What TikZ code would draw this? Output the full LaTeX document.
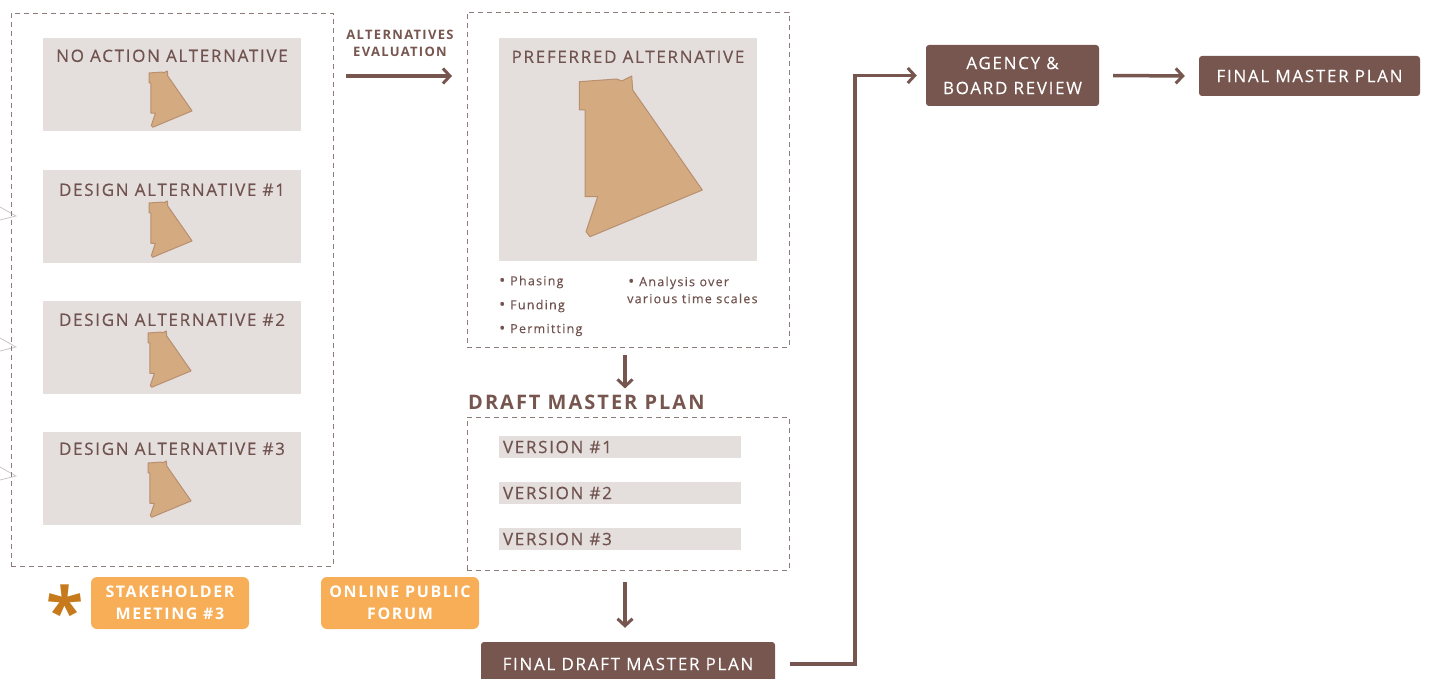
\documentclass[tikz,border=0pt]{standalone}
\usepackage{fontspec}
\setmainfont{Open Sans}[LetterSpace=10, UprightFeatures={FakeBold=0.3}]
\usetikzlibrary{arrows.meta,positioning}
\definecolor{plum}{HTML}{76564F}
\definecolor{plumtext}{HTML}{70534F}
\definecolor{panel}{HTML}{E4DEDD}
\definecolor{parcelfill}{HTML}{D4AA80}
\definecolor{parceledge}{HTML}{B89070}
\definecolor{orangebox}{HTML}{F8AE57}
\definecolor{star}{HTML}{C67A1C}
\definecolor{dashline}{HTML}{8E7C7B}
\newcommand{\dotmark}{{\fontsize{16}{16}\selectfont\raisebox{-0.5pt}{•}}\hspace{5pt}}
\tikzset{
  frame/.style={draw=dashline, line width=0.9pt, dash pattern=on 5pt off 4pt},
  altbox/.style={fill=panel, minimum width=258pt, minimum height=93pt, inner sep=0pt},
  alttitle/.style={text=plumtext, font=\fontsize{17}{20}\selectfont, inner sep=0pt},
  verbar/.style={fill=panel, minimum width=242pt, minimum height=22pt, inner sep=0pt},
  vertext/.style={text=plumtext, font=\fontsize{17}{19}\selectfont, inner sep=0pt, anchor=west},
  darkbox/.style={fill=plum, rounded corners=3pt, text=white, align=center,
    font=\fontsize{17}{25}\selectfont, inner sep=0pt},
  orangebox/.style={fill=orangebox, rounded corners=6pt, text=white, align=center,
    font=\bfseries\fontsize{16}{22}\selectfont, inner sep=0pt,
    minimum width=158pt, minimum height=52pt},
  bullet/.style={text=plumtext, font=\fontsize{12.5}{17}\selectfont, inner sep=0pt, anchor=west, align=left},
  flow/.style={draw=plum, line width=3.5pt, -{Straight Barb[length=7pt,width=15pt,line width=3pt]}},
  ghost/.style={draw=gray!45, line width=0.8pt},
  parcel/.pic={
    \draw[fill=parcelfill, draw=parceledge, line width=1pt, line join=round]
      (0,0) -- (37.4,-2.7) -- (42.4,-0.7) -- (52.4,-5.7) -- (53.4,8.3)
      -- (123,108.3) -- (10.7,155) -- (6.7,150) -- (18.4,115) -- (5.7,115)
      -- (5.7,28.3) -- (0,28.3) -- cycle;
  }
}
\begin{document}
\begin{tikzpicture}[x=1pt,y=-1pt]
  \useasboundingbox (0,0) rectangle (1431,679);
  % leftover tips at the left edge
  \draw[ghost] (0,207) -- (16,216) -- (0,220);
  \draw[ghost] (0,338) -- (16,347) -- (0,351);
  \draw[ghost] (0,467) -- (16,476) -- (0,480);
  % alternatives
  \node[frame, minimum width=322pt, minimum height=553pt] (altframe) at (172,289.5) {};
  \node[altbox] (noaction) at (172,84.5) {};
  \node[altbox] (design1) at (172,216.5) {};
  \node[altbox] (design2) at (172,347.5) {};
  \node[altbox] (design3) at (172,478.5) {};
  \node[alttitle] at ([yshift=-18pt]noaction.north) {NO ACTION ALTERNATIVE};
  \node[alttitle] at ([yshift=-20pt]design1.north) {DESIGN ALTERNATIVE \#1};
  \node[alttitle] at ([yshift=-19pt]design2.north) {DESIGN ALTERNATIVE \#2};
  \node[alttitle] at ([yshift=-17pt]design3.north) {DESIGN ALTERNATIVE \#3};
  \pic[scale=0.35] at (149,73) {parcel};
  \pic[scale=0.35] at (149,203) {parcel};
  \pic[scale=0.35] at (148,333) {parcel};
  \pic[scale=0.35] at (148,463) {parcel};
  % evaluation
  \node[text=plum, font=\bfseries\fontsize{13}{17}\selectfont, align=center, inner sep=0pt]
    (evaltext) at (400,43) {ALTERNATIVES\\EVALUATION};
  \coordinate (evalin) at (346,76);
  \coordinate (evalout) at (452,76);
  \draw[flow] (evalin) -- (evalout);
  % preferred alternative
  \node[frame, minimum width=322pt, minimum height=335pt] (prefframe) at (628,179.5) {};
  \node[altbox, minimum height=223pt] (preferred) at (628,149.5) {};
  \node[alttitle] at ([yshift=-19pt]preferred.north) {PREFERRED ALTERNATIVE};
  \pic at (579.3,81.7) {parcel};
  \node[bullet] (phasing) at (499,282) {\dotmark Phasing};
  \node[bullet] (funding) at (499,306) {\dotmark Funding};
  \node[bullet] (permit) at (499,330) {\dotmark Permitting};
  \node[bullet] (analysis) at (627,290) {\hspace{1pt}\dotmark Analysis over\\various time scales};
  % draft master plan
  \node[text=plum, font=\bfseries\fontsize{20}{24}\selectfont, inner sep=0pt, anchor=west]
    (drafttitle) at (468,402) {DRAFT MASTER PLAN};
  \draw[flow, shorten <=8pt, shorten >=6pt] (prefframe.south -| 625,0) -- (drafttitle.north -| 625,0);
  \node[frame, minimum width=322pt, minimum height=153pt] (draftframe) at (628,493.5) {};
  \node[verbar] (v1) at (620,447) {};
  \node[verbar] (v2) at (620,493) {};
  \node[verbar] (v3) at (620,539) {};
  \node[vertext] at ([xshift=4pt]v1.west) {VERSION \#1};
  \node[vertext] at ([xshift=4pt]v2.west) {VERSION \#2};
  \node[vertext] at ([xshift=4pt]v3.west) {VERSION \#3};
  % final steps
  \node[darkbox, minimum width=294pt, minimum height=44pt] (finaldraft) at (628,664) {FINAL DRAFT MASTER PLAN};
  \draw[flow, shorten <=12pt, shorten >=14pt] (draftframe.south -| 625,0) -- (finaldraft.north -| 625,0);
  \node[darkbox, minimum width=173pt, minimum height=61pt] (review) at (1012.5,75.5) {AGENCY \&\\BOARD REVIEW};
  \node[darkbox, minimum width=221pt, minimum height=40pt] (finalplan) at (1309.5,76) {FINAL MASTER PLAN};
  \draw[flow, shorten <=15pt, shorten >=9pt] (finaldraft.east) -- ++(80,0) |- (review.west);
  \draw[flow, shorten <=14pt, shorten >=14pt] (review.east) -- (finalplan.west);
  % public input
  \node[orangebox] (stakeholder) at (170,603) {STAKEHOLDER\\MEETING \#3};
  \node[orangebox] (forum) at (400,603) {ONLINE PUBLIC\\FORUM};
  \node[text=star, font=\bfseries\fontsize{68}{68}\selectfont, inner sep=0pt] (asterisk) at (65,611) {*};
\end{tikzpicture}
\end{document}
